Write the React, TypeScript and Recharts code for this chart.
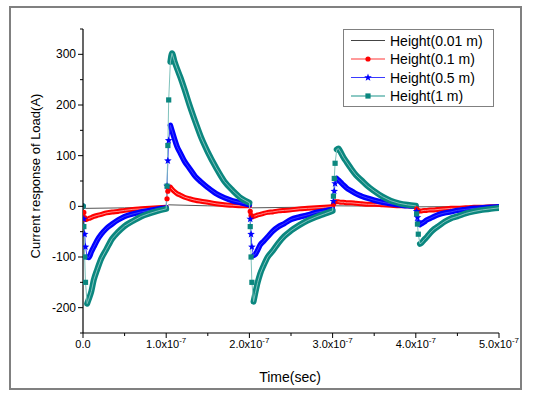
import React from "react";
import { LineChart, Line, XAxis, YAxis } from "recharts";

const FONT = '"Liberation Sans", Arial, sans-serif';

// time in units of 1e-7 s
const times = [
  0, 0.01, 0.02, 0.03, 0.05, 0.07, 0.1, 0.13, 0.17, 0.22, 0.28, 0.35, 0.42, 0.5, 0.6, 0.7, 0.8, 0.9,
  1, 1.01, 1.02, 1.03, 1.05, 1.07, 1.1, 1.13, 1.17, 1.22, 1.28, 1.35, 1.42, 1.5, 1.6, 1.7, 1.8, 1.9,
  2, 2.01, 2.02, 2.03, 2.05, 2.07, 2.1, 2.13, 2.17, 2.22, 2.28, 2.35, 2.42, 2.5, 2.6, 2.7, 2.8, 2.9,
  3, 3.01, 3.02, 3.03, 3.05, 3.07, 3.1, 3.13, 3.17, 3.22, 3.28, 3.35, 3.42, 3.5, 3.6, 3.7, 3.8, 3.9,
  4, 4.01, 4.02, 4.03, 4.05, 4.07, 4.1, 4.13, 4.17, 4.22, 4.28, 4.35, 4.42, 4.5, 4.6, 4.7, 4.8, 4.9,
  5,
];

const height01 = [
  0, -12, -22, -26, -25, -24, -22, -20, -18, -16, -13, -11, -10, -8, -6, -5, -4, -3,
  -2, 15, 30, 37, 38, 34, 29, 25, 22, 18, 15, 12, 10, 8, 5, 3, 2, 1,
  1, -10, -18, -21, -20, -19, -17, -16, -14, -12, -11, -9, -8, -7, -5, -4, -3, -2,
  -1, 4, 8, 9, 9, 9, 8, 8, 7, 7, 6, 5, 4, 4, 3, 2, 1, 1,
  0, -5, -8, -9, -9, -9, -8, -8, -7, -7, -6, -5, -4, -4, -3, -2, -2, -1,
  -1,
];

const height05 = [
  0, -25, -55, -80, -100, -101, -90, -80, -67, -55, -44, -35, -27, -20, -15, -11, -8, -5,
  -3, 40, 90, 130, 160, 149, 133, 118, 105, 89, 75, 59, 48, 37, 25, 17, 11, 7,
  3, -25, -55, -80, -97, -95, -86, -76, -69, -60, -49, -40, -34, -26, -21, -17, -12, -9,
  -6, 10, 30, 45, 55, 52, 47, 42, 36, 31, 25, 20, 16, 12, 8, 5, 3, 1,
  0, -10, -22, -30, -36, -34, -31, -27, -24, -20, -16, -13, -11, -8, -6, -4, -3, -2,
  -1,
];

const height1 = [
  0, -40, -100, -150, -192, -183, -168, -145, -125, -103, -85, -64, -51, -39, -29, -20, -14, -9,
  -5, 40, 120, 210, 285, 302, 286, 272, 255, 231, 200, 167, 136, 107, 76, 49, 31, 16,
  7, -40, -100, -150, -188, -172, -150, -133, -117, -100, -88, -72, -59, -48, -37, -28, -21, -15,
  -9, 20, 55, 85, 112, 114, 106, 97, 87, 75, 62, 51, 40, 30, 19, 11, 6, 3,
  1, -15, -35, -55, -74, -72, -66, -61, -53, -45, -38, -30, -24, -20, -14, -10, -7, -5,
  -3,
];

const blackTimes = [0, 0.03, 0.5, 1, 1.03, 1.5, 2, 2.03, 2.5, 3, 3.03, 4, 4.03, 5];
const height001 = [0, -4, -3, -1, 3, 1, 0, -3, -2, -1, 1, 0, -1, 0];

const xTicks = [0, 0.5, 1, 1.5, 2, 2.5, 3, 3.5, 4, 4.5, 5];
const yTicks = [-250, -200, -150, -100, -50, 0, 50, 100, 150, 200, 250, 300, 350];

const legendNames = ["Height(0.01 m)", "Height(0.1 m)", "Height(0.5 m)", "Height(1 m)"];

const RED = "#ff0000";
const BLUE = "#0000ff";
const TEAL = "#0b877f";

// points on the steep switching edges: separate markers on a thin line
const onEdge = (i: number) => i < 90 && [1, 2, 3].includes(i % 18);

const rows = times.map((t, i) => ({
  t,
  red: height01[i],
  blue: height05[i],
  teal: height1[i],
  redBand: onEdge(i) ? null : height01[i],
  blueBand: onEdge(i) ? null : height05[i],
  tealBand: onEdge(i) ? null : height1[i],
}));

const blackRows = blackTimes.map((t, i) => ({ t, black: height001[i] }));

function starPath(cx: number, cy: number, r: number) {
  let d = "";
  for (let k = 0; k < 10; k++) {
    const rr = k % 2 === 0 ? r : r * 0.42;
    const a = -Math.PI / 2 + (k * Math.PI) / 5;
    d += (k === 0 ? "M" : "L") + (cx + rr * Math.cos(a)).toFixed(2) + "," + (cy + rr * Math.sin(a)).toFixed(2);
  }
  return d + "Z";
}

const hidden = (p: any) => p.cx == null || p.cy == null || !onEdge(p.index);

const circleDot = (p: any) =>
  hidden(p) ? <g key={p.index} /> : <circle key={p.index} cx={p.cx} cy={p.cy} r={2.6} fill={RED} />;
const starDot = (p: any) =>
  hidden(p) ? <g key={p.index} /> : <path key={p.index} d={starPath(p.cx, p.cy, 4)} fill={BLUE} />;
const squareDot = (p: any) =>
  hidden(p) ? (
    <g key={p.index} />
  ) : (
    <rect key={p.index} x={p.cx - 2.6} y={p.cy - 2.6} width={5.2} height={5.2} fill={TEAL} />
  );

function XTick({ x, y, payload }: any) {
  const v = payload.value as number;
  const major = Number.isInteger(v);
  return (
    <g>
      <line x1={x} y1={y} x2={x} y2={y + (major ? 5 : 3)} stroke="#000" />
      {major && (
        <text x={x} y={y + 15} textAnchor="middle" fontSize={11} fontFamily={FONT} fill="#000">
          {v === 0 ? (
            "0.0"
          ) : (
            <>
              {v.toFixed(1) + "x10"}
              <tspan dy={-5} fontSize={8}>
                -7
              </tspan>
            </>
          )}
        </text>
      )}
    </g>
  );
}

function YTick({ x, y, payload }: any) {
  const v = payload.value as number;
  const major = v % 100 === 0;
  return (
    <g>
      <line x1={x} y1={y} x2={x - (major ? 5 : 3)} y2={y} stroke="#000" />
      {major && (
        <text x={x - 7} y={y + 4} textAnchor="end" fontSize={12} fontFamily={FONT} fill="#000">
          {v}
        </text>
      )}
    </g>
  );
}

function LegendBox() {
  const rowsY = [40.5, 59, 77.5, 96];
  const x0 = 351;
  const x1 = 385;
  const mid = (x0 + x1) / 2;
  return (
    <g fontFamily={FONT} fontSize={14}>
      <rect x={343.5} y={29.5} width={150} height={77} fill="#fff" stroke="#808080" />
      <line x1={x0} y1={rowsY[0]} x2={x1} y2={rowsY[0]} stroke="#444" strokeWidth={1} />
      <line x1={x0} y1={rowsY[1]} x2={x1} y2={rowsY[1]} stroke="#ff9a9a" strokeWidth={2} />
      <circle cx={mid} cy={rowsY[1]} r={2.6} fill={RED} />
      <line x1={x0} y1={rowsY[2]} x2={x1} y2={rowsY[2]} stroke="#3a3aff" strokeWidth={1} />
      <path d={starPath(mid, rowsY[2], 4)} fill={BLUE} />
      <line x1={x0} y1={rowsY[3]} x2={x1} y2={rowsY[3]} stroke="#8cc9c4" strokeWidth={2} />
      <rect x={mid - 2.6} y={rowsY[3] - 2.6} width={5.2} height={5.2} fill={TEAL} />
      {legendNames.map((n, i) => (
        <text key={n} x={390} y={rowsY[i] + 5} fill="#000">
          {n}
        </text>
      ))}
    </g>
  );
}

export default function App() {
  return (
    <div style={{ position: "absolute", left: 0, top: 0, width: 534, height: 395, background: "#fff" }}>
      <LineChart
        width={534}
        height={395}
        data={rows}
        margin={{ top: 29, right: 35, bottom: 32, left: 23 }}
      >
        <XAxis
          dataKey="t"
          type="number"
          domain={[0, 5]}
          ticks={xTicks}
          interval={0}
          allowDataOverflow
          height={30}
          tickSize={0}
          tickMargin={0}
          tickLine={false}
          axisLine={{ stroke: "#000", strokeWidth: 1.2 }}
          tick={<XTick />}
        />
        <YAxis
          type="number"
          domain={[-250, 350]}
          ticks={yTicks}
          interval={0}
          allowDataOverflow
          width={60}
          tickSize={0}
          tickMargin={0}
          tickLine={false}
          axisLine={{ stroke: "#000", strokeWidth: 1.2 }}
          tick={<YTick />}
        />
        <Line
          data={blackRows}
          dataKey="black"
          stroke="#555"
          strokeWidth={1}
          dot={false}
          isAnimationActive={false}
        />
        <Line dataKey="redBand" type="monotone" stroke={RED} strokeWidth={5} strokeLinecap="round" strokeLinejoin="round" dot={false} legendType="none" isAnimationActive={false} />
        <Line dataKey="red" stroke="#ff8c8c" strokeWidth={1} dot={circleDot} isAnimationActive={false} />
        <Line dataKey="blueBand" type="monotone" stroke={BLUE} strokeWidth={5.5} strokeLinecap="round" strokeLinejoin="round" dot={false} legendType="none" isAnimationActive={false} />
        <Line dataKey="blue" stroke="#3a3aff" strokeWidth={1} dot={starDot} isAnimationActive={false} />
        <Line dataKey="tealBand" type="monotone" stroke={TEAL} strokeWidth={6} strokeLinecap="round" strokeLinejoin="round" dot={false} legendType="none" isAnimationActive={false} />
        <Line dataKey="teal" stroke="#7fc2bc" strokeWidth={1} dot={squareDot} isAnimationActive={false} />
      </LineChart>
      <svg
        width={534}
        height={395}
        style={{ position: "absolute", left: 0, top: 0, pointerEvents: "none" }}
      >
        <rect x={10} y={7} width={511} height={382} fill="none" stroke="#808080" strokeWidth={2} />
        <LegendBox />
        <text
          transform="translate(40,176) rotate(-90)"
          textAnchor="middle"
          fontFamily={FONT}
          fontSize={13}
          fill="#000"
        >
          Current response of Load(A)
        </text>
        <text x={290} y={382} textAnchor="middle" fontFamily={FONT} fontSize={14} fill="#000">
          Time(sec)
        </text>
      </svg>
    </div>
  );
}
